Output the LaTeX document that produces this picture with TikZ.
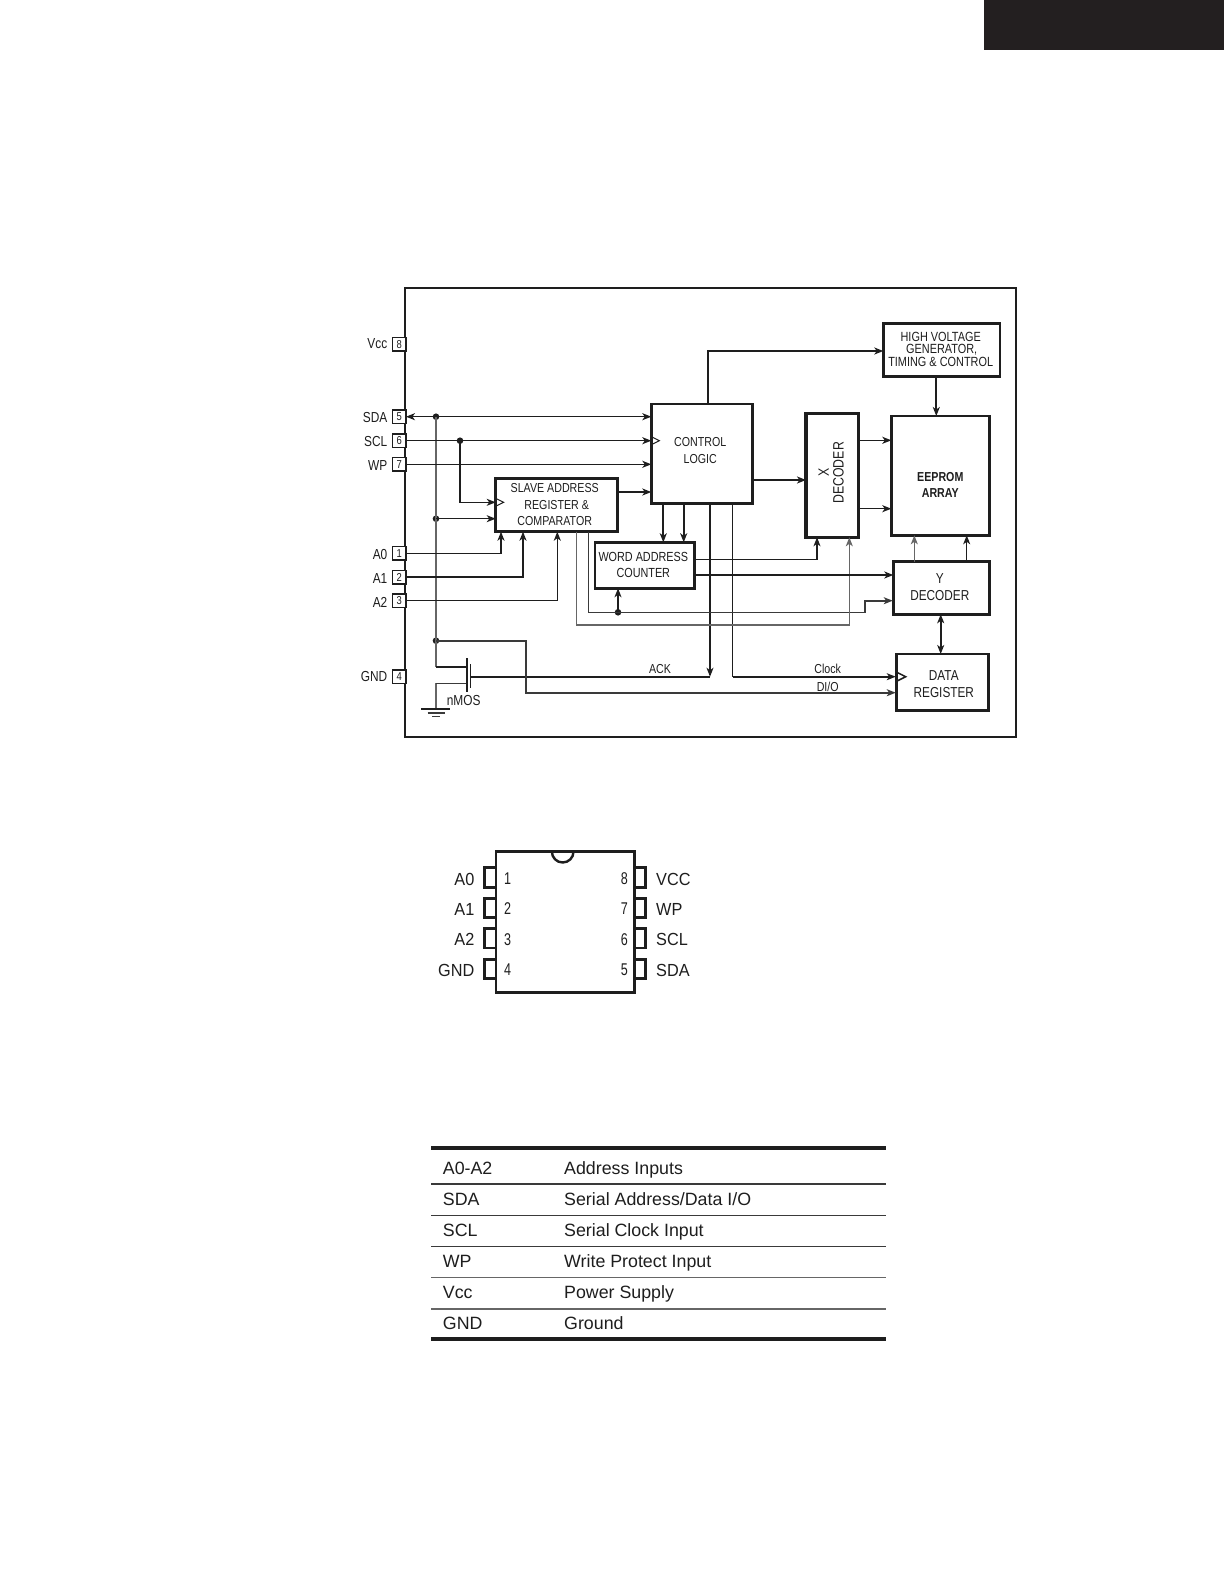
\documentclass[tikz,border=0pt]{standalone}
\usepackage{fontspec}
\usepackage{graphicx}
\usetikzlibrary{arrows.meta}
\setmainfont{Liberation Sans}
\newfontfamily\cond[FakeStretch=0.82]{Liberation Sans}
\newfontfamily\pkf[FakeStretch=0.93]{Liberation Sans}
\newfontfamily\pkn[FakeStretch=0.74]{Liberation Sans}
\definecolor{ink}{HTML}{1E1E1E}
\definecolor{mid}{HTML}{666666}
\definecolor{dk}{HTML}{3A3A3A}
\newcommand{\fs}[2]{\fontsize{#1}{#2}\selectfont}
\tikzset{
  tip/.style={-{Stealth[length=9pt,width=7pt,inset=2.5pt]}},
  bi/.style={{Stealth[length=9pt,width=7pt,inset=2.5pt]}-{Stealth[length=9pt,width=7pt,inset=2.5pt]}},
  wire/.style={draw=ink,line width=1.25pt,line join=miter},
  wirem/.style={draw=ink,line width=1.9pt,line join=miter},
  wireg/.style={draw=mid,line width=1.5pt,line join=miter},
  wired/.style={draw=dk,line width=1.6pt,line join=miter},
  blk/.style={draw=ink,line width=2.7pt,fill=white,inner sep=0pt,outer sep=0pt,align=center,text=ink},
  pinb/.style={draw=ink,line width=1.5pt,fill=white,minimum width=13.3pt,minimum height=13.5pt,inner sep=0pt,outer sep=0pt,font=\cond\fs{11.5}{12},text=ink},
  lab/.style={anchor=east,inner sep=0pt,font=\cond\fs{14.5}{16},text=ink},
  sig/.style={inner sep=0pt,font=\cond\fs{13}{14},text=ink},
  jdot/.style={circle,fill=ink,draw=none,minimum size=6.6pt,inner sep=0pt,outer sep=0pt},
  clk/.style={draw=ink,line width=1pt,line join=miter},
  ppin/.style={draw=ink,line width=2.6pt,fill=white,minimum width=20pt,minimum height=19.5pt,inner sep=0pt,outer sep=0pt},
  plab/.style={inner sep=0pt,font=\pkf\fs{17.5}{18},text=ink},
  pnum/.style={inner sep=0pt,font=\pkn\fs{17}{18},text=ink},
  tcell/.style={anchor=west,inner sep=0pt,yshift=-1.9pt,text height=13pt,text depth=4pt,font=\fs{17.8}{20},text=ink},
  thick rule/.style={draw=ink,line width=4pt},
  thin rule/.style={draw=dk,line width=1.4pt},
}
\begin{document}
\begin{tikzpicture}[x=1pt,y=-1pt]
\useasboundingbox (0,0) rectangle (1224,1584);
\fill[white] (0,0) rectangle (1224,1584);
\fill[fill={rgb,255:red,35;green,31;blue,32}] (984,0) rectangle (1224,50);

% outer frame
\draw[draw=ink,line width=1.9pt] (405,288.3) rectangle (1015.7,737);

% pins of the block diagram
\node[pinb] (pVCC) at (399.3,344.3) {8};
\node[pinb] (pSDA) at (399.3,416.7) {5};
\node[pinb] (pSCL) at (399.3,440.7) {6};
\node[pinb] (pWP)  at (399.3,464.3) {7};
\node[pinb] (pA0)  at (399.3,553.3) {1};
\node[pinb] (pA1)  at (399.3,577) {2};
\node[pinb] (pA2)  at (399.3,600.7) {3};
\node[pinb] (pGND) at (399.3,676.7) {4};
\node[lab] (lVCC) at (387.5,344) {Vcc};
\node[lab] (lSDA) at (387.5,417.5) {SDA};
\node[lab] (lSCL) at (387.5,441.4) {SCL};
\node[lab] (lWP)  at (387.5,465.3) {WP};
\node[lab] (lA0)  at (387.5,554.5) {A0};
\node[lab] (lA1)  at (387.5,578.5) {A1};
\node[lab] (lA2)  at (387.5,602.3) {A2};
\node[lab] (lGND) at (387.5,677) {GND};

% blocks
\node[blk,minimum width=116.7pt,minimum height=53.4pt,font=\cond\fs{13.3}{12.6},text depth=2pt] (hv) at (941.7,350) {HIGH VOLTAGE\hspace*{2pt}\\GENERATOR,\hspace*{2pt}\\TIMING \& CONTROL\hspace*{2pt}};
\node[blk,minimum width=101pt,minimum height=99.3pt,font=\cond\fs{13}{17},text depth=5.8pt] (ctl) at (701.8,453.7) {CONTROL\hspace*{3pt}\\LOGIC\hspace*{3pt}};
\node[blk,line width=3.2pt,minimum width=52.7pt,minimum height=124pt,text depth=5pt] (xd) at (832.3,475.3) {\hspace*{2pt}\rotatebox{90}{\cond\fs{15}{14.4}\begin{tabular}{@{}c@{}}X\\DECODER\end{tabular}}};
\node[blk,minimum width=98pt,minimum height=119.3pt,font=\cond\bfseries\fs{13}{16},text height=43.4pt] (eep) at (940.3,475.7) {EEPROM\\ARRAY};
\node[blk,minimum width=122pt,minimum height=53.4pt,font=\cond\fs{13}{16.5},text depth=1pt] (slv) at (556.7,505) {SLAVE ADDRESS\hspace*{4pt}\\REGISTER \&\hspace*{4pt}\\COMPARATOR\hspace*{4pt}};
\node[blk,minimum width=99.7pt,minimum height=46pt,font=\cond\fs{13.2}{16}] (wac) at (644.8,565.3) {WORD ADDRESS\hspace*{3pt}\\COUNTER\hspace*{3pt}};
\node[blk,minimum width=96pt,minimum height=52.6pt,font=\cond\fs{14.4}{17},text depth=2.5pt] (yd) at (941.3,588) {Y\hspace*{3pt}\\DECODER\hspace*{3pt}};
\node[blk,minimum width=92pt,minimum height=56.7pt,font=\cond\fs{14.4}{16.7},text height=30pt] (dr) at (942.3,682.3) {\hspace*{3pt}DATA\\\hspace*{3pt}REGISTER};

% junctions
\node[jdot] (dSDA) at (436,416.7) {};
\node[jdot] (dSCL) at (460,440.7) {};
\node[jdot] (dSLV) at (436,518.7) {};
\node[jdot] (dACK) at (436,640.7) {};
\node[jdot] (dWAC) at (618,612.3) {};

% free ends and bends
\coordinate (sClk) at (495.7,502.3);
\coordinate (mosD) at (466.7,666.7);
\coordinate (mosS) at (466.7,683.3);
\coordinate (mosG) at (470.7,676.7);
\coordinate (gnd)  at (436,709);
\coordinate (srcB) at (436,683.3);
\coordinate (ackE) at (710,676.7);
\coordinate (ctlA) at (710,503.3);
\coordinate (ctlC) at (732.7,503.3);
\coordinate (ctlH) at (707.7,404);
\coordinate (ctlW) at (663.3,503.3);
\coordinate (ctlV) at (683.7,503.3);
\coordinate (clkE) at (895.7,676.7);
\coordinate (dioE) at (895.7,692.7);
\coordinate (slvO) at (617.7,492);
\coordinate (slvB) at (588.3,531.7);
\coordinate (slvG) at (576.3,531.7);
\coordinate (ctlS) at (651.3,492);
\coordinate (xIn1) at (817,537.3);
\coordinate (xIn2) at (849.3,537.3);
\coordinate (wOut1) at (694.7,559.3);
\coordinate (wOut2) at (694.7,575);
\coordinate (yIn2) at (892.7,600.7);

% supply rail and nMOS
\draw[wireg] (dSDA.center) -- (dACK.center) |- (mosD);
\draw[wireg] (srcB) -- (gnd);
\draw[wired] (srcB) -- (mosS);
\draw[wirem] (436,666.7) -- (mosD);
\draw[draw=ink,line width=1.2pt] (467,658) -- (467,692);
\draw[draw=ink,line width=1.4pt] (470.7,664) -- (470.7,688);
\draw[wirem] (mosG) -- (ackE);
\draw[draw=ink,line width=1.6pt] (421,709) -- (450,709);
\draw[draw=dk,line width=1.3pt] (427.5,713) -- (444.5,713);
\draw[draw=dk,line width=1.2pt] (432,716.5) -- (440,716.5);
\node[sig,font=\cond\fs{14.5}{16}] (nmos) at (463.7,701) {nMOS};

% pin connectors
\draw[wire,bi] (pSDA.east) -- (ctl.west |- pSDA.east);
\draw[wire,tip] (pSCL.east) -- (ctl.west |- pSCL.east);
\draw[wire,tip] (pWP.east) -- (ctl.west |- pWP.east);
\draw[wire,tip] (dSCL.center) |- (sClk);
\draw[wire,tip] (dSLV.center) -- (slv.west |- dSLV.center);
\draw[wire,tip] (pA0.east) -| (501,531.7);
\draw[wire,tip] (pA1.east) -- (523,577) -- (523,531.7);
\draw[wire,tip] (pA2.east) -- (557.3,600.7) -- (557.3,531.7);

% control logic connectors
\draw[wirem,tip] (slvO) -- (ctlS);
\draw[wirem,tip] (ctl.east |- xd.west) ++(0,4.7) -- (806,480);
\draw[wirem,tip] (ctlH) |- (883.3,351);
\draw[wirem,tip] (hv.south -| 936.3,0) -- (936.3,416);
\draw[wirem,tip] (ctlW) -- (663.3,542.3);
\draw[wirem,tip] (ctlV) -- (683.7,542.3);
\draw[wire,tip] (ctlA) -- (ackE);
\draw[wire] (ctlC) |- (732.7,676.7);
\draw[wirem,tip] (732.7,676.7) -- (clkE);
\draw[wired,tip] (dACK.center) -| (525.7,692.7) -- (dioE);
\node[sig] (tACK) at (660,669.3) {ACK};
\node[sig] (tClk) at (827.7,669.3) {Clock};
\node[sig] (tDIO) at (827.7,686.9) {DI/O};

% slave register outputs
\draw[wired] (slvB) |- (dWAC.center);
\draw[wired,tip] (dWAC.center) -- (865,612.3) -- (865,600.7) -- (yIn2);
\draw[wirem,tip] (dWAC.center) -- (618,588.3);
\draw[wireg,tip] (slvG) |- (849.3,625) -- (xIn2);

% counter and decoders
\draw[wire,tip] (wOut1) -| (xIn1);
\draw[wirem,tip] (wOut2) -- (yd.west |- wOut2);
\draw[wire,tip] (858.7,440.3) -- (891.3,440.3);
\draw[wire,tip] (858.7,508.7) -- (891.3,508.7);
\draw[wireg,tip] (914.3,561.7) -- (914.3,535.3);
\draw[wire,tip] (966.7,561.7) -- (966.7,535.3);
\draw[wirem,bi] (940.7,614.3) -- (940.7,654);

% clock triangles
\draw[clk] (sClk) ++(0,-4) -- ++(8,4) -- ++(-8,4);
\draw[clk] (ctl.west |- pSCL.east) ++(0,-4) -- ++(8,4) -- ++(-8,4);
\draw[clk,line width=1.5pt] (clkE) ++(1,-4.5) -- ++(9,4.5) -- ++(-9,4.5);

% package
\node[ppin] (L1) at (494.3,877.5) {};
\node[ppin] (L2) at (494.3,908) {};
\node[ppin] (L3) at (494.3,938.3) {};
\node[ppin] (L4) at (494.3,969) {};
\node[ppin] (R8) at (635.7,877.5) {};
\node[ppin] (R7) at (635.7,908) {};
\node[ppin] (R6) at (635.7,938.3) {};
\node[ppin] (R5) at (635.7,969) {};
\node[draw=ink,line width=2.6pt,fill=white,minimum width=138.3pt,minimum height=141pt,inner sep=0pt,outer sep=0pt] (pkg) at (565.2,922.2) {};
\draw[draw=ink,line width=2.4pt] (551.9,851.7) arc (180:0:10.8);
\node[plab,anchor=east] at (474.5,879) {A0};
\node[plab,anchor=east] at (474.5,909) {A1};
\node[plab,anchor=east] at (474.5,939.5) {A2};
\node[plab,anchor=east] at (474.5,970) {GND};
\node[plab,anchor=west] at (656,879) {VCC};
\node[plab,anchor=west] at (656,909) {WP};
\node[plab,anchor=west] at (656,939.5) {SCL};
\node[plab,anchor=west] at (656,970) {SDA};
\node[pnum] at (507.7,879) {1};
\node[pnum] at (507.7,909) {2};
\node[pnum] at (507.7,939.5) {3};
\node[pnum] at (507.7,970) {4};
\node[pnum] at (624.3,879) {8};
\node[pnum] at (624.3,909) {7};
\node[pnum] at (624.3,939.5) {6};
\node[pnum] at (624.3,970) {5};

% table
\draw[thick rule] (431,1147.7) -- (886,1147.7);
\draw[thin rule] (431,1184) -- (886,1184);
\draw[thin rule] (431,1215.3) -- (886,1215.3);
\draw[thin rule] (431,1246.7) -- (886,1246.7);
\draw[thin rule,draw=mid] (431,1277.7) -- (886,1277.7);
\draw[thin rule,draw=mid] (431,1309) -- (886,1309);
\draw[thick rule] (431,1339) -- (886,1339);
\node[tcell] at (442.7,1167.7) {A0-A2};
\node[tcell] at (564,1167.7) {Address Inputs};
\node[tcell] at (442.7,1199.3) {SDA};
\node[tcell] at (564,1199.3) {Serial Address/Data I/O};
\node[tcell] at (442.7,1230) {SCL};
\node[tcell] at (564,1230) {Serial Clock Input};
\node[tcell] at (442.7,1260.7) {WP};
\node[tcell] at (564,1260.7) {Write Protect Input};
\node[tcell] at (442.7,1292.3) {Vcc};
\node[tcell] at (564,1292.3) {Power Supply};
\node[tcell] at (442.7,1323.3) {GND};
\node[tcell] at (564,1323.3) {Ground};
\end{tikzpicture}
\end{document}
